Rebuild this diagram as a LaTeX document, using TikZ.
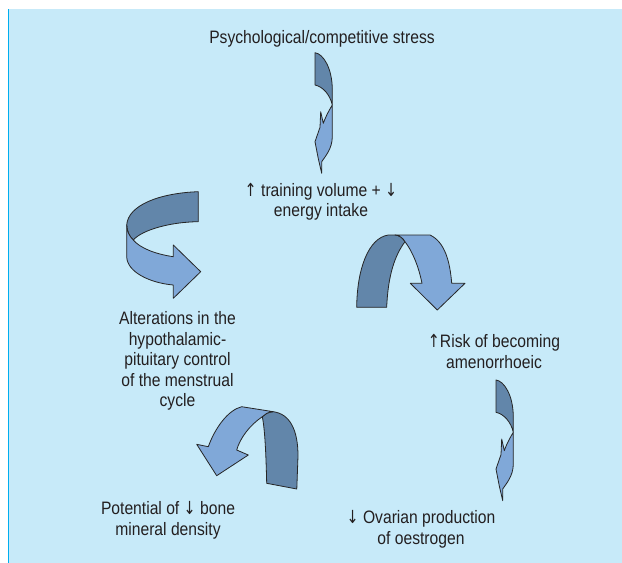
\documentclass[tikz,border=0pt]{standalone}
\usepackage{fontspec}
\setmainfont[FakeStretch=0.87]{Liberation Sans}
\newfontfamily\arrowfont[FakeStretch=0.8]{DejaVu Sans}
\newcommand{\uparr}{{\arrowfont ↑}}
\newcommand{\downarr}{{\arrowfont ↓}}
\usetikzlibrary{positioning}
\definecolor{panelblue}{HTML}{C7EAF9}
\definecolor{rulecyan}{HTML}{00AEEF}
\definecolor{backface}{HTML}{6286AA}
\definecolor{frontface}{HTML}{80A8D8}
\definecolor{inktext}{HTML}{231F20}

\begin{document}
\begin{tikzpicture}[x=1pt,y=-1pt,
   label/.style={align=center,font=\fontsize{18}{20.5}\selectfont,text=inktext,inner sep=0pt,anchor=base},
   back/.style={fill=backface,draw=black!85,line width=0.8pt,line join=round},
   front/.style={fill=frontface,draw=black!85,line width=0.8pt,line join=round},
   twist/.pic={
     \filldraw[back] (0,0) .. controls (8,1) and (17.3,15) .. (17.3,37.3) -- (17.3,52.3)
        .. controls (15,42) and (8,34) .. (0,32.3) -- cycle;
     \filldraw[front] (17.3,52.3) -- (17.3,84) .. controls (17.3,96) and (10,104) .. (6.7,109)
        -- (6.7,120.6) -- (3.3,106) -- (0,89) -- (5,74.6) -- (5.7,59) -- (8.3,70.6)
        .. controls (11,63) and (15,56) .. (17.3,52.3) -- cycle;
   }]
   \useasboundingbox (0,0) rectangle (622,563);
   \fill[panelblue] (8,9) rectangle (622,563);
   \draw[rulecyan,line width=1.3pt] (8.6,9) -- (8.6,563);

   % the five stages (base = last line)
   \node[label] (stress)   at (322,43)    {Psychological/competitive stress};
   \node[label] (training) at (321,216.5) {\uparr{} training volume + \downarr\\energy intake};
   \node[label] (alter)    at (177.5,406.8) {Alterations in the\\hypothalamic-\\pituitary control\\of the menstrual\\cycle};
   \node[label] (risk)     at (494,368)   {\uparr Risk of becoming\\amenorrhoeic};
   \node[label] (bone)     at (168,535)   {Potential of \downarr{} bone\\mineral density};
   \node[label] (ovary)    at (421,544)   {\downarr{} Ovarian production\\of oestrogen};

   % thin twisted arrows
   \pic at (315,52.7) {twist};
   \pic at (496,380) {twist};

   % ribbon arrow on the left
   \filldraw[back] (198.3,191.7) .. controls (160,193) and (128,205) .. (126.7,225)
      .. controls (127,231) and (129,236) .. (133.3,240)
      .. controls (142,230) and (170,222) .. (198.3,221.7) -- cycle;
   \filldraw[front] (126.7,225) -- (126.7,256.7) .. controls (127,272) and (150,283) .. (173.3,285)
      -- (173.3,298.3) -- (200.7,271.7) -- (173.3,245) -- (173.3,256.7)
      .. controls (155,254) and (140,248) .. (133.3,240)
      .. controls (129,236) and (127,231) .. (126.7,225) -- cycle;

   % ribbon arrow on the right
   \filldraw[back] (356.7,307.3) .. controls (357,270) and (368,238) .. (388.3,235) -- (395,235)
      .. controls (399,235) and (403,238) .. (405,241.7)
      .. controls (395,255) and (388,275) .. (386.7,307.3) -- cycle;
   \filldraw[front] (395,235) -- (430,235) .. controls (445,242) and (450,262) .. (451.7,283.3)
      -- (465,283.3) -- (437.3,310) -- (410.3,283.3) -- (422,283.3)
      .. controls (419,268) and (413,252) .. (405,241.7)
      .. controls (403,238) and (399,235) .. (395,235) -- cycle;

   % ribbon arrow at the bottom
   \filldraw[back] (273.3,411.7) .. controls (290,414) and (298,430) .. (298,456) -- (296.8,489)
      -- (266.7,483.3) .. controls (266,455) and (265,430) .. (262.3,416.7)
      .. controls (265,414) and (268,412) .. (273.3,411.7) -- cycle;
   \filldraw[front] (241.7,406.7) -- (273.3,411.7) .. controls (268,412) and (265,414) .. (262.3,416.7)
      .. controls (250,425) and (240,438) .. (236.7,450) -- (248.3,455) -- (216.7,475.7)
      -- (196.7,444.3) -- (208.3,446.7) .. controls (215,428) and (228,410) .. (241.7,406.7) -- cycle;
\end{tikzpicture}
\end{document}
